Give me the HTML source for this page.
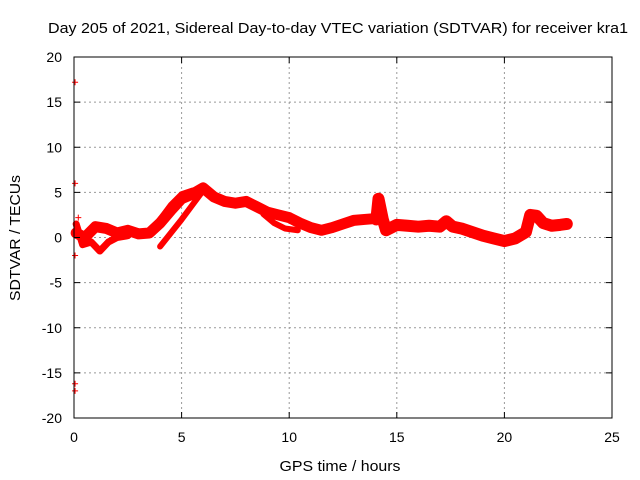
<!DOCTYPE html>
<html><head><meta charset="utf-8"><style>
body{margin:0;background:#fff;}
svg{display:block;font-family:"Liberation Sans",sans-serif;}
</style></head><body>
<svg id="chart" width="640" height="480">
<g id="grid"></g>
<g id="marks"></g>
<rect x="74" y="57" width="538" height="361" fill="none" stroke="#000" stroke-width="1"/>
<g id="ticks"></g>
<text x="338" y="33" text-anchor="middle" font-size="15" textLength="580" lengthAdjust="spacingAndGlyphs">Day 205 of 2021, Sidereal Day-to-day VTEC variation (SDTVAR) for receiver kra1</text>
<text x="340" y="471" text-anchor="middle" font-size="15" textLength="121" lengthAdjust="spacingAndGlyphs">GPS time / hours</text>
<text transform="translate(20,238) rotate(-90)" text-anchor="middle" font-size="15" textLength="126" lengthAdjust="spacingAndGlyphs">SDTVAR / TECUs</text>
</svg>
<script>
const xTicks=[0,5,10,15,20,25];
const yTicks=[-20,-15,-10,-5,0,5,10,15,20];
const trackMain=[[0.1,0.5],[0.5,0],[1,1.2],[1.5,1],[2,0.5],[2.5,0.8],[3,0.4],[3.5,0.5],[4,1.6],[4.5,3],[5,4.3],[5.5,4.8],[6,5.5],[6.5,4.5],[7,4],[7.5,3.8],[8,4],[8.5,3.4],[9,2.8],[9.5,2.5],[10,2.2],[10.5,1.6],[11,1.1],[11.5,0.8],[12,1.1],[12.5,1.5],[13,1.9],[13.5,2],[14,2.1]];
const trackUpper=[[3.6,0.6],[4,2],[4.5,3.6],[5,4.8],[5.5,5.2]];
const trackLower=[[4,-1],[4.5,0.5],[5,2],[5.5,3.6],[6,5.2]];
const trackEarly=[[0.1,1.5],[0.4,-0.8],[0.8,-0.5],[1.2,-1.5],[1.6,-0.5],[2,0],[2.5,0.2]];
const trackBranch=[[8.8,2.6],[9.3,1.6],[9.8,1],[10.4,0.8]];
const trackLate=[[14.05,2],[14.15,4.3],[14.35,2],[14.5,0.8],[15,1.4],[15.5,1.3],[16,1.2],[16.5,1.3],[17,1.2],[17.3,1.8],[17.6,1.2],[18,1],[18.5,0.6],[19,0.2],[19.5,-0.1],[20,-0.4],[20.5,-0.1],[21,0.6],[21.2,2.5],[21.5,2.4],[21.8,1.6],[22.2,1.3],[22.6,1.4],[22.9,1.5]];
const outliers=[[0.05,17.2],[0.05,6],[0.05,-2],[0.05,-16.2],[0.05,-17],[0.2,2.2],[14.2,4.6]];
const X=h=>74+h*538/25, Y=v=>237.5-v*9.025;
const NS="http://www.w3.org/2000/svg";
const grid=document.getElementById('grid'),ticks=document.getElementById('ticks'),marks=document.getElementById('marks');
function mk(tag,attrs,parent){const e=document.createElementNS(NS,tag);for(const k in attrs)e.setAttribute(k,attrs[k]);parent.appendChild(e);return e;}
xTicks.forEach(t=>{
 if(t>0&&t<25){const g=mk('line',{x1:X(t),x2:X(t),y1:57,y2:418,stroke:'#999','stroke-dasharray':'2,3'},grid);
 
 }
 mk('line',{x1:X(t),x2:X(t),y1:418,y2:412,stroke:'#000'},ticks);
 mk('line',{x1:X(t),x2:X(t),y1:57,y2:63,stroke:'#000'},ticks);
 const l=mk('text',{x:X(t),y:442,'text-anchor':'middle','font-size':14},ticks);l.textContent=t;
 
 
});
yTicks.forEach(t=>{
 if(t>-20&&t<20){const g=mk('line',{x1:74,x2:612,y1:Y(t),y2:Y(t),stroke:'#999','stroke-dasharray':'2,3'},grid);
 
 }
 mk('line',{x1:74,x2:80,y1:Y(t),y2:Y(t),stroke:'#000'},ticks);
 mk('line',{x1:612,x2:606,y1:Y(t),y2:Y(t),stroke:'#000'},ticks);
 const l=mk('text',{x:62,y:Y(t)+5,'text-anchor':'end','font-size':14},ticks);l.textContent=t;
 
 
});
function track(arr,w,name){
 const p=mk('polyline',{points:arr.map(d=>X(d[0])+','+Y(d[1])).join(' '),fill:'none',stroke:'#f00','stroke-width':w,'stroke-linejoin':'round','stroke-linecap':'round'},marks);
 
 
}
track(trackMain,11,'track-main');
track(trackUpper,6,'track-upper');
track(trackLower,6,'track-lower');
track(trackEarly,7,'track-early');
track(trackBranch,6,'track-branch');
track(trackLate,12,'track-late');
outliers.forEach(d=>{
 const p=mk('path',{d:`M${X(d[0])-3},${Y(d[1])}h6M${X(d[0])},${Y(d[1])-3}v6`,stroke:'#f00','stroke-width':1},marks);
 
 
});
</script>
</body></html>
